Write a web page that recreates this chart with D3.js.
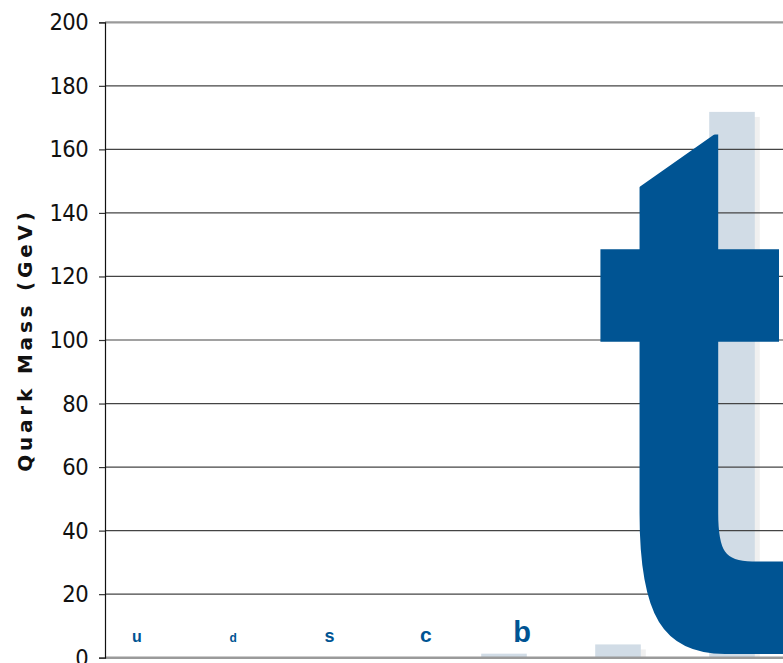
<!DOCTYPE html>
<html>
<head>
<meta charset="utf-8">
<script src="https://cdn.jsdelivr.net/npm/d3@7"></script>
<style>
  html, body { margin: 0; padding: 0; background: #fff; }
  svg { display: block; }
</style>
</head>
<body>
<svg id="chart" width="783" height="663"></svg>
<script>
// Quark masses in GeV
const quarks = ["u", "d", "s", "c", "b", "t"];
const massGeV = [0.0022, 0.0047, 0.095, 1.27, 4.18, 171.8];
// Font size of each quark's letter (the top quark gets a giant glyph)
const letterSize = [16, 12, 18, 21, 29];
const yTicks = [0, 20, 40, 60, 80, 100, 120, 140, 160, 180, 200];

const svg = d3.select("#chart");
const margin = { top: 22.3, left: 105, bottom: 5.3 };
const plotW = 684;
const plotH = 663 - margin.top - margin.bottom;

const x = d3.scaleBand()
  .domain(quarks)
  .range([margin.left, margin.left + plotW])
  .paddingInner(0.6)
  .paddingOuter(0.3);

const y = d3.scaleLinear()
  .domain([0, 200])
  .range([margin.top + plotH, margin.top]);

const blue = "#005493";

// Bars with a soft drop shadow
const bars = svg.append("g");
bars.selectAll("rect.shadow")
  .data(quarks)
  .join("rect")
  .attr("class", "shadow")
  .attr("x", (d) => x(d) + 5)
  .attr("y", (d, i) => y(massGeV[i]) + 5)
  .attr("width", x.bandwidth())
  .attr("height", (d, i) => Math.max(0, y(0) - y(massGeV[i]) - 5))
  .attr("fill", "#f0f0f0");
bars.selectAll("rect.bar")
  .data(quarks)
  .join("rect")
  .attr("class", "bar")
  .attr("x", (d) => x(d))
  .attr("y", (d, i) => y(massGeV[i]))
  .attr("width", x.bandwidth())
  .attr("height", (d, i) => y(0) - y(massGeV[i]))
  .attr("fill", "#d1dce6");

// Horizontal gridlines
svg.append("g")
  .selectAll("line")
  .data(yTicks.filter((t) => t > 0 && t < 200))
  .join("line")
  .attr("x1", margin.left)
  .attr("x2", margin.left + plotW)
  .attr("y1", (d) => y(d))
  .attr("y2", (d) => y(d))
  .attr("stroke", "#444")
  .attr("stroke-width", 1.2);

// Top frame line and baseline
svg.append("line")
  .attr("x1", margin.left).attr("x2", margin.left + plotW)
  .attr("y1", y(200)).attr("y2", y(200))
  .attr("stroke", "#9a9a9a").attr("stroke-width", 2.2);
svg.append("line")
  .attr("x1", margin.left).attr("x2", margin.left + plotW)
  .attr("y1", y(0)).attr("y2", y(0))
  .attr("stroke", "#9a9a9a").attr("stroke-width", 2.5);

// Y axis
const yAxis = d3.axisLeft(y)
  .tickValues(yTicks)
  .tickSize(6)
  .tickPadding(11)
  .tickFormat(d3.format("d"));
const gy = svg.append("g")
  .attr("transform", `translate(${margin.left},0)`)
  .call(yAxis);
gy.select(".domain").attr("stroke", "#111").attr("stroke-width", 1.2);
gy.selectAll(".tick line").attr("stroke", "#333").attr("stroke-width", 1.2);
gy.selectAll(".tick text")
  .attr("fill", "#111")
  .style("font-family", "'DejaVu Sans Condensed', 'DejaVu Sans', sans-serif")
  .style("font-stretch", "condensed")
  .style("font-size", "23.5px")
  .style("letter-spacing", "-0.6px");

// Axis title
svg.append("text")
  .attr("transform", `translate(32,340) rotate(-90)`)
  .attr("text-anchor", "middle")
  .attr("fill", "#111")
  .style("font-family", "'DejaVu Sans', Verdana, sans-serif")
  .style("font-weight", "bold")
  .style("font-size", "20px")
  .style("letter-spacing", "3.8px")
  .text("Quark Mass (GeV)");

// Quark letters
const labelX = d3.scaleLinear().domain([0, 4]).range([137, 522]);
svg.append("g")
  .selectAll("text")
  .data(quarks.slice(0, 5))
  .join("text")
  .attr("x", (d, i) => labelX(i))
  .attr("y", 642)
  .attr("text-anchor", "middle")
  .attr("fill", blue)
  .style("font-family", "'Liberation Sans', Arial, sans-serif")
  .style("font-weight", "bold")
  .style("font-size", (d, i) => letterSize[i] + "px")
  .text((d) => d);

// The top quark, drawn as a giant letter with an angled stem top
svg.append("clipPath")
  .attr("id", "t-cut")
  .append("polygon")
  .attr("points", "560,242.7 779,89.1 779,345 800,345 800,720 560,720");
svg.append("g")
  .attr("clip-path", "url(#t-cut)")
  .append("text")
  .attr("transform", "translate(594.5,654) scale(4.5,7.4)")
  .attr("fill", blue)
  .style("font-family", "'DejaVu Sans', Verdana, sans-serif")
  .style("font-weight", "bold")
  .style("font-size", "100px")
  .text(quarks[5]);
</script>
</body>
</html>
